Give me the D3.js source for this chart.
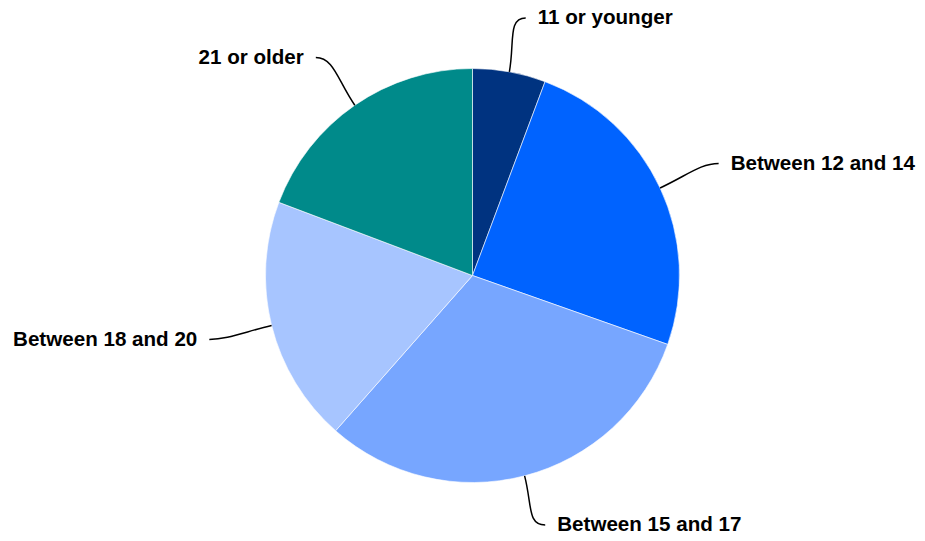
<!DOCTYPE html>
<html><head><meta charset="utf-8">
<script src="https://cdn.jsdelivr.net/npm/d3@7"></script>
<style>body{margin:0;background:#fff}svg{display:block}</style>
</head><body>
<svg id="c" width="925" height="541"></svg>
<script>
const categories = ["11 or younger","Between 12 and 14","Between 15 and 17","Between 18 and 20","21 or older"];
const values = [5.7, 24.7, 31.1, 19.25, 19.25];
const colors = ["#003380","#0063ff","#77a6ff","#a7c5ff","#008a8a"];

const W=925,H=541,cx=472.5,cy=275.5,r=207;
const svg=d3.select("#c");
const g=svg.append("g").attr("transform",`translate(${cx},${cy})`);
const pie=d3.pie().sort(null).value(d=>d)(values);
const arc=d3.arc().innerRadius(0).outerRadius(r);
g.selectAll("path.s").data(pie).join("path").attr("class","s")
  .attr("d",arc).attr("fill",(d,i)=>colors[i]).attr("stroke","#fff").attr("stroke-width",0.6);

const R=265;
pie.forEach((d,i)=>{
  const a=(d.startAngle+d.endAngle)/2;
  const sx=Math.sin(a), sy=-Math.cos(a);
  const right=sx>=0, dir=right?1:-1;
  const A=[r*sx, r*sy];
  let ex=R*sx+6*dir, ey=R*sy;
  ey=Math.max(18-cy,Math.min(525-cy,ey));
  const c1=[A[0]+sx*30, A[1]+sy*30];
  const c2=[ex-dir*18, ey];
  g.append("path").attr("fill","none").attr("stroke","#000").attr("stroke-width",1.5)
    .attr("d",`M${A[0]},${A[1]}C${c1[0]},${c1[1]} ${c2[0]},${c2[1]} ${ex},${ey}`);
  g.append("text").attr("x",ex+dir*12).attr("y",ey+1)
    .attr("text-anchor",right?"start":"end")
    .attr("dominant-baseline","middle")
    .style("font-family","Liberation Sans, Arial, sans-serif")
    .style("font-weight","bold").style("font-size","20.6px").attr("fill","#000")
    .text(categories[i]);
});
</script>
</body></html>
